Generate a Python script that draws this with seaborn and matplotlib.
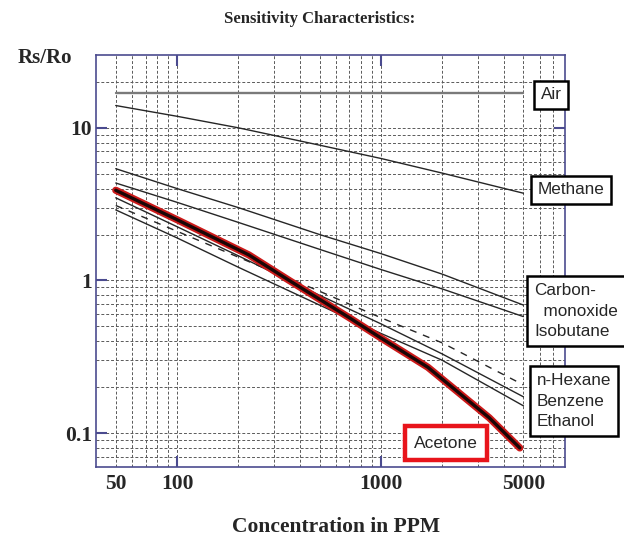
import matplotlib
matplotlib.use('agg')
import matplotlib.pyplot as plt
import matplotlib.patheffects as pe
from matplotlib.ticker import FixedLocator, FixedFormatter, NullLocator
import seaborn as sns
import pandas as pd

# curve readings (ppm, Rs/Ro)
PPM = [50, 100, 200, 500, 1000, 2000, 5000]
AIR_PPM = [50, 5000]
AIR = [17.0, 17.0]
METHANE = [14.0, 11.9, 10.0, 7.7, 6.3, 5.05, 3.73]
CARBON_MONOXIDE = [5.4, 4.0, 3.0, 2.0, 1.5, 1.1, 0.69]
ISOBUTANE = [4.35, 3.25, 2.4, 1.6, 1.18, 0.88, 0.58]
N_HEXANE = [3.1, 2.1, 1.42, 0.85, 0.57, 0.39, 0.207]
BENZENE = [3.48, 2.25, 1.45, 0.8, 0.52, 0.33, 0.173]
ETHANOL = [2.9, 1.9, 1.22, 0.69, 0.45, 0.3, 0.151]
ACETONE_PPM = [50, 100, 225, 355, 700, 1000, 1700, 3400, 4800]
ACETONE = [3.9, 2.5, 1.47, 1.0, 0.57, 0.42, 0.27, 0.126, 0.08]

X_TICKS = [100, 1000]
X_TICK_LABELS = ['100', '1000']
X_EXTRA_TICKS = [50, 5000]
X_EXTRA_LABELS = ['50', '5000']
Y_TICKS = [0.1, 1, 10]
Y_TICK_LABELS = ['0.1', '1', '10']

FRAME = '#4b4b8f'
GRID = '#5a5a5a'
SERIF = 'Liberation Serif'
SANS = 'Liberation Sans'

sns.set_style("white")
plt.rcParams['font.family'] = ['Liberation Sans', 'DejaVu Sans']

frames = []
for name, xs, ys in [('Air', AIR_PPM, AIR), ('Methane', PPM, METHANE),
                     ('Carbon monoxide', PPM, CARBON_MONOXIDE), ('Isobutane', PPM, ISOBUTANE),
                     ('n-Hexane', PPM, N_HEXANE), ('Benzene', PPM, BENZENE),
                     ('Ethanol', PPM, ETHANOL), ('Acetone', ACETONE_PPM, ACETONE)]:
    frames.append(pd.DataFrame({'gas': name, 'ppm': xs, 'rs_ro': ys}))
df = pd.concat(frames, ignore_index=True)

styles = {
    'Air': dict(color='#7a7a7a', lw=1.7, ls='-'),
    'Methane': dict(color='#262626', lw=1.0, ls='-'),
    'Carbon monoxide': dict(color='#262626', lw=1.0, ls='-'),
    'Isobutane': dict(color='#262626', lw=1.0, ls='-'),
    'n-Hexane': dict(color='#262626', lw=1.0, ls=(0, (5, 5))),
    'Benzene': dict(color='#262626', lw=1.0, ls='-'),
    'Ethanol': dict(color='#262626', lw=1.0, ls='-'),
}

fig = plt.figure(figsize=(6.24, 5.44), dpi=100)
ax = fig.add_axes([96 / 624, 1 - 467 / 544, 469 / 624, 412 / 544])
ax.set_xscale('log')
ax.set_yscale('log')
ax.set_xlim(40, 8000)
ax.set_ylim(0.06, 30)

# dashed log grid
for k in range(1, 4):
    for m in range(1, 10):
        v = m * 10 ** k
        if 40 < v < 8000:
            ax.axvline(v, color=GRID, lw=0.7, ls=(0, (3, 2)), zorder=0)
for k in range(-2, 2):
    for m in range(1, 10):
        v = m * 10.0 ** k
        if 0.06 < v < 30:
            ax.axhline(v, color=GRID, lw=0.7, ls=(0, (3, 2)), zorder=0)

for gas, st in styles.items():
    sub = df[df['gas'] == gas]
    sns.lineplot(data=sub, x='ppm', y='rs_ro', ax=ax, color=st['color'],
                 linewidth=st['lw'], linestyle=st['ls'], estimator=None,
                 sort=False, legend=False, zorder=3)

sub = df[df['gas'] == 'Acetone']
sns.lineplot(data=sub, x='ppm', y='rs_ro', ax=ax, color='#1a0606', linewidth=2.4,
             estimator=None, sort=False, legend=False, zorder=4,
             path_effects=[pe.Stroke(linewidth=5.2, foreground='#cc1a1a'), pe.Normal()])

ax.set_xlabel('')
ax.set_ylabel('')

ax.xaxis.set_major_locator(FixedLocator(X_TICKS))
ax.xaxis.set_major_formatter(FixedFormatter(X_TICK_LABELS))
ax.xaxis.set_minor_locator(FixedLocator(X_EXTRA_TICKS))
ax.xaxis.set_minor_formatter(FixedFormatter(X_EXTRA_LABELS))
ax.yaxis.set_major_locator(FixedLocator(Y_TICKS))
ax.yaxis.set_major_formatter(FixedFormatter(Y_TICK_LABELS))
ax.yaxis.set_minor_locator(NullLocator())

ax.tick_params(which='major', direction='in', length=8, width=1.5, color=FRAME,
               top=True, right=True, bottom=True, left=True)
ax.tick_params(which='minor', length=0)
ax.tick_params(axis='x', which='both', pad=5)
ax.tick_params(axis='y', which='both', pad=3)
for lab in ax.get_xticklabels(which='both') + ax.get_yticklabels():
    lab.set_fontfamily(SERIF)
    lab.set_fontweight('bold')
    lab.set_fontsize(15.5)

for sp in ax.spines.values():
    sp.set_visible(True)
    sp.set_color(FRAME)
    sp.set_linewidth(1.2)

fig.text(320 / 624, 1 - 19 / 544, 'Sensitivity Characteristics:', ha='center', va='center',
         fontsize=12, fontweight='bold', family=SERIF)
fig.text(45 / 624, 1 - 58 / 544, 'Rs/Ro', ha='center', va='center',
         fontsize=15, fontweight='bold', family=SERIF)
fig.text(336 / 624, 1 - 527 / 544, 'Concentration in PPM', ha='center', va='center',
         fontsize=15.5, fontweight='bold', family=SERIF)

box = dict(boxstyle='square,pad=0.4', fc='white', ec='black', lw=1.8)
label_boxes = [
    ('Air', 551, 95),
    ('Methane', 571, 190),
    ('Carbon-\n  monoxide\nIsobutane', 576, 311),
    ('n-Hexane\nBenzene\nEthanol', 574, 401),
]
for txt, px, py in label_boxes:
    fig.text(px / 624, 1 - py / 544, txt, ha='center', va='center', fontsize=12.3,
             family=SANS, linespacing=1.45, multialignment='left', bbox=box, zorder=10)
fig.text(446 / 624, 1 - 443 / 544, 'Acetone', ha='center', va='center', fontsize=12.5,
         family=SANS, zorder=10,
         bbox=dict(boxstyle='square,pad=0.55', fc='white', ec='#e8141b', lw=3.2))

fig.savefig('out.png', dpi=100)
